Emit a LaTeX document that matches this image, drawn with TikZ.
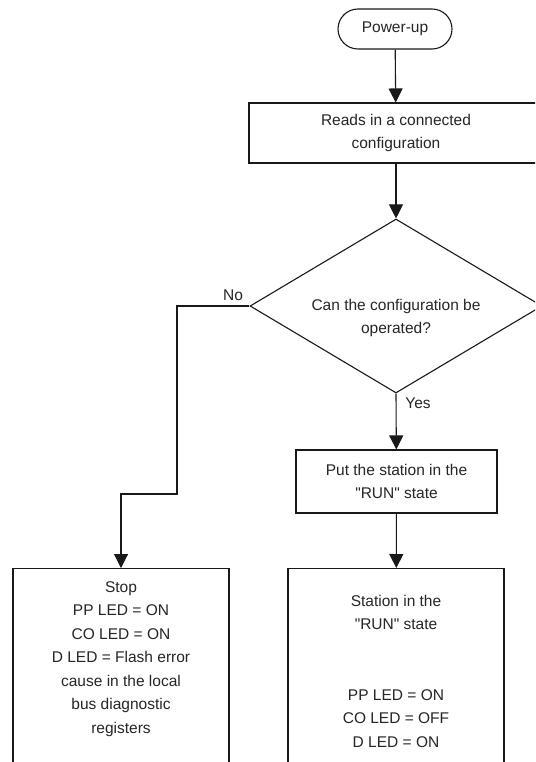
\documentclass[tikz,border=0pt]{standalone}
\usepackage{fontspec}
\setmainfont{Liberation Sans}
\usetikzlibrary{arrows.meta,shapes.geometric}
\begin{document}
\begin{tikzpicture}[x=1pt,y=-1pt,
  every node/.style={font=\fontsize{15.5}{23.5}\selectfont, text=black!85},
  ln/.style={line width=1.1pt, draw=black!90},
  box/.style={ln, draw, rectangle, inner sep=0pt, align=center},
  term/.style={ln, draw, rectangle, rounded corners=20pt, inner sep=0pt},
  dia/.style={ln, draw, diamond, inner sep=0pt},
  txt/.style={inner sep=0pt, align=center},
  arr/.style={ln, -{Triangle[length=14pt,width=14pt]}}]
\useasboundingbox (0,0) rectangle (535,762);
\clip (0,0) rectangle (535,762);
\fill[white] (0,0) rectangle (535,762);

\node[term, minimum width=114pt, minimum height=40pt] (pwr) at (395,29) {Power-up};
\node[box, minimum width=294pt, minimum height=60pt] (read) at (396,133) {Reads in a connected\\configuration};
\node[dia, minimum width=292pt, minimum height=174pt] (dec) at (396,306) {};
\node[txt] (dect) at (396,318) {Can the configuration be\\operated?};
\node[box, minimum width=201pt, minimum height=63pt] (put) at (396.5,481.5) {Put the station in the\\\textquotedbl RUN\textquotedbl{} state};
\node[box, anchor=north, minimum width=216pt, minimum height=220pt] (stop) at (121,568) {};
\node[txt] (stopt) at (121,659) {Stop\\PP LED = ON\\CO LED = ON\\D LED = Flash error\\cause in the local\\bus diagnostic\\registers};
\node[box, anchor=north, minimum width=216pt, minimum height=220pt] (run) at (396,568) {};
\node[txt] (runt) at (396,671) {Station in the\\\textquotedbl RUN\textquotedbl{} state\\[47pt]PP LED = ON\\CO LED = OFF\\D LED = ON};

\node[txt] (no) at (233,295) {No};
\node[txt] (yes) at (418,403) {Yes};

\coordinate (bend) at (177,494);
\draw[arr] (pwr) -- (read);
\draw[arr] (read) -- (dec);
\draw[arr] (dec.south) -- (put);
\draw[arr] (put) -- (run);
\draw[arr] (dec.west) -| (bend) -| (stop.north);
\end{tikzpicture}
\end{document}
